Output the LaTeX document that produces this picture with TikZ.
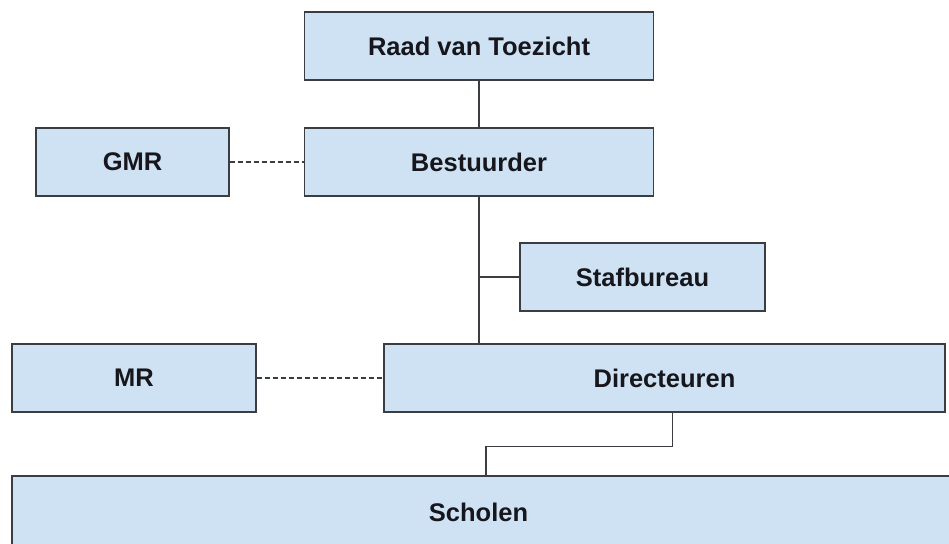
\documentclass[tikz,border=0pt]{standalone}
\usepackage{fontspec}
\setmainfont{Liberation Sans}
\usetikzlibrary{calc,positioning}
\definecolor{BoxBlue}{HTML}{CFE2F3}
\definecolor{BoxEdge}{HTML}{3A3D42}
\definecolor{TextDark}{HTML}{16161C}

\begin{document}
\begin{tikzpicture}[x=1pt,y=-1pt,
    orgbox/.style={draw=BoxEdge, line width=1.3pt, fill=BoxBlue, inner sep=0pt,
      minimum height=68pt, text=TextDark,
      font=\fontsize{25.5}{30}\selectfont\bfseries},
    orgline/.style={draw=BoxEdge, line width=1.2pt},
    advline/.style={orgline, dash pattern=on 5pt off 3pt}]
  \clip (0,0) rectangle (949,543);
  \fill[white] (0,0) rectangle (949,543);

  % bestuur
  \node[orgbox, minimum width=349pt] (raad) at (479,46) {Raad van Toezicht};
  \node[orgbox, minimum width=349pt] (bestuurder) at (479,162) {Bestuurder};
  \node[orgbox, minimum width=193pt] (gmr) at (132.5,162) {GMR};
  \node[orgbox, minimum width=245pt] (staf) at (642.5,277) {Stafbureau};

  % scholen
  \node[orgbox, minimum width=244pt] (mr) at (134,378) {MR};
  \node[orgbox, minimum width=561pt] (directeuren) at (664.5,378) {Directeuren};
  \node[orgbox, minimum width=945pt, minimum height=72pt] (scholen) at (484.5,512) {Scholen\hspace*{12pt}};

  % lijnen
  \draw[orgline] (raad) -- (bestuurder);
  \draw[orgline] (bestuurder.south) -- (bestuurder.south |- directeuren.north);
  \draw[orgline] (staf.west) -- (staf.west -| bestuurder.south);
  \draw[advline] (gmr) -- (bestuurder);
  \draw[advline] (mr) -- (directeuren);
  \draw[orgline] ([xshift=8pt]directeuren.south) -- ++(0,34) -| ([xshift=1.5pt]scholen.north);
\end{tikzpicture}
\end{document}
